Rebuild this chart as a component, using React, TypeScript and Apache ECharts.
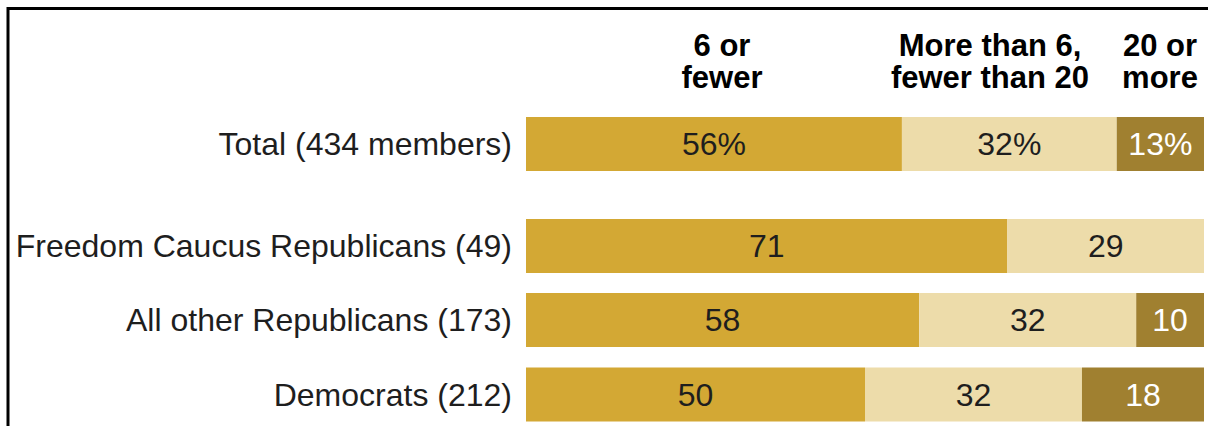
import React, { useEffect, useRef } from "react";
import * as echarts from "echarts";

const categories = [
  "Total (434 members)",
  "Freedom Caucus Republicans (49)",
  "All other Republicans (173)",
  "Democrats (212)",
];
const sixOrFewer = [56, 71, 58, 50];
const sixToTwenty = [32, 29, 32, 32];
const twentyOrMore: (number | null)[] = [13, null, 10, 18];
const headers = [
  ["6 or", "fewer"],
  ["More than 6,", "fewer than 20"],
  ["20 or", "more"],
];

const colors = ["#D3A834", "#EDDCAA", "#A08030"];
const labelColors = ["#1e1e1e", "#1e1e1e", "#ffffff"];
const FONT = "Liberation Sans";

export default function App() {
  const ref = useRef<HTMLDivElement>(null);
  useEffect(() => {
    if (!ref.current) return;
    const chart = echarts.init(ref.current, null, { renderer: "svg" });
    const raw = [sixOrFewer, sixToTwenty, twentyOrMore];
    const sums = categories.map((_, i) =>
      raw.reduce((s, arr) => s + (arr[i] ?? 0), 0)
    );
    const rowTops = [117, 219, 293, 367.5];
    const series: any[] = [];
    raw.forEach((arr, k) => {
      categories.forEach((_, i) => {
        series.push({
          type: "bar",
          xAxisIndex: i,
          yAxisIndex: i,
          stack: "s" + i,
          barWidth: 54,
          itemStyle: { color: colors[k] },
          label: {
            show: true,
            position: "inside",
            color: labelColors[k],
            fontFamily: FONT,
            fontSize: 32,
            formatter: (p: any) =>
              p.data.raw == null ? "" : p.data.raw + (p.data.row === 0 ? "%" : ""),
          },
          data: [
            {
              value: arr[i] == null ? null : ((arr[i] as number) / sums[i]) * 100,
              raw: arr[i],
              row: i,
            },
          ],
        });
      });
    });
    const headerX = [722, 990, 1160];
    const lineY = [45.5, 77.5];
    const headerTexts: any[] = [];
    headers.forEach((lines, i) => {
      lines.forEach((t, j) => {
        headerTexts.push({
          type: "text",
          x: headerX[i],
          y: lineY[j],
          style: {
            text: t,
            textAlign: "center",
            textVerticalAlign: "middle",
            fontFamily: FONT,
            fontWeight: "bold",
            fontSize: 31,
            fill: "#000",
          },
        });
      });
    });
    chart.setOption({
      animation: false,
      grid: rowTops.map((t) => ({ left: 526, right: 4, top: t, height: 54 })),
      xAxis: categories.map((_, g) => ({
        gridIndex: g,
        type: "value",
        min: 0,
        max: 100,
        show: false,
      })),
      yAxis: categories.map((c, g) => ({
        gridIndex: g,
        type: "category",
        data: [c],
        axisLine: { show: false },
        axisTick: { show: false },
        axisLabel: {
          margin: 14,
          fontSize: 32,
          color: "#1e1e1e",
          fontFamily: FONT,
        },
      })),
      series,
      graphic: [
        {
          type: "line",
          shape: { x1: 8, y1: 8.5, x2: 1208, y2: 8.5 },
          style: { stroke: "#000", lineWidth: 3 },
        },
        {
          type: "line",
          shape: { x1: 8, y1: 7, x2: 8, y2: 426 },
          style: { stroke: "#000", lineWidth: 3 },
        },
        ...headerTexts,
      ],
    });
    return () => chart.dispose();
  }, []);
  return (
    <div
      ref={ref}
      style={{ position: "absolute", left: 0, top: 0, width: 1208, height: 426, background: "#fff" }}
    />
  );
}
